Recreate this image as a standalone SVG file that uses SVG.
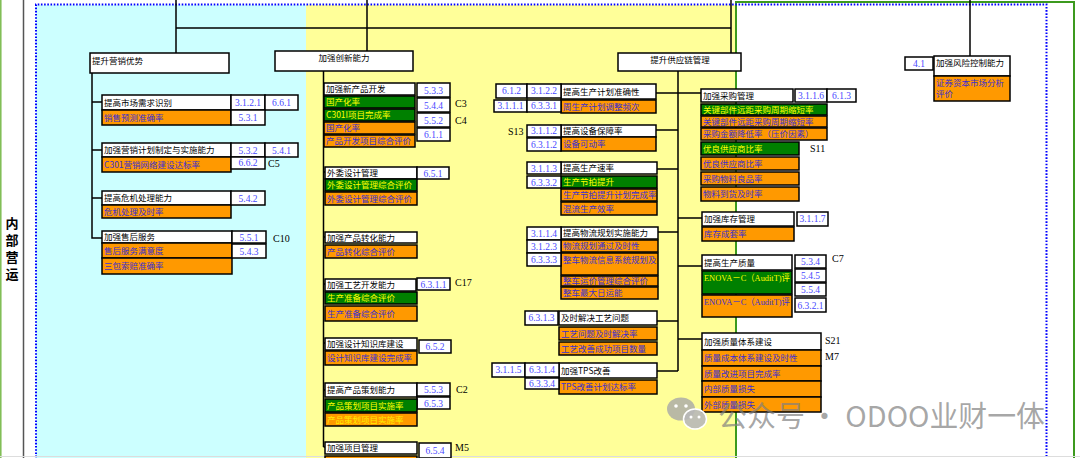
<svg xmlns="http://www.w3.org/2000/svg" width="1080" height="458" viewBox="0 0 1080 458">
<style>
.w{fill:#fff;stroke:#000;stroke-width:1.5}
.o{fill:#ff9900;stroke:#000;stroke-width:1.5}
.g{fill:#008000;stroke:#000;stroke-width:1.5}
.k{fill:#fff;stroke:#000;stroke-width:1.5}
.t{font-family:"Noto Sans CJK SC","Noto Sans",sans-serif;font-size:8.5px;fill:#000}
.tb{font-family:"Noto Sans CJK SC","Noto Sans",sans-serif;font-size:8.5px;fill:#3b2fcf}
.ty{font-family:"Noto Sans CJK SC","Noto Sans",sans-serif;font-size:8.5px;fill:#ffff00}
.te{font-family:"Liberation Serif","Noto Sans CJK SC",serif;font-size:9px}
.n{font-family:"Liberation Serif",serif;font-size:9.5px;fill:#4848ff;text-anchor:middle}
.m{font-family:"Liberation Serif",serif;font-size:10px;fill:#000}
.ln{stroke:#000;stroke-width:1.5;fill:none}
.wm{font-family:"Noto Sans CJK SC","Noto Sans",sans-serif;font-size:29px;fill:#808080;fill-opacity:0.7}
</style>
<rect x="0" y="0" width="1080" height="458" fill="#fff"/>
<rect x="36" y="5" width="270" height="453" fill="#ccffff"/>
<rect x="306" y="5" width="430" height="453" fill="#ffff99"/>
<line x1="0.8" y1="0" x2="0.8" y2="458" stroke="#7cbb4f" stroke-width="1.5"/>
<line x1="23.5" y1="0" x2="23.5" y2="458" stroke="#555" stroke-width="1.5"/>
<path d="M736,458 V2 H1074 V458" fill="none" stroke="#3c9a1e" stroke-width="2"/>
<path d="M36,470 V4.5 H1046.5 V470" fill="none" stroke="#0000ff" stroke-width="2" stroke-dasharray="1.6 1.6"/>
<line x1="0" y1="456.5" x2="1080" y2="456.5" stroke="#ddd" stroke-width="1"/>
<g id="side-label" class="t" style="font-size:13px;font-weight:bold">
<text x="5.5" y="228">内</text><text x="5.5" y="245">部</text><text x="5.5" y="262">营</text><text x="5.5" y="279">运</text>
</g>

<g id="connectors" class="ln">
<path d="M176,0 V53 M367,0 V51 M731,0 V53 M176,28 H731 M970,0 V56"/>
<path d="M92,73 V238 H102 M92,102 H102 M92,150 H102 M92,198 H102"/>
<path d="M323.5,71 V447 M323.5,89 H325 M323.5,172 H325 M323.5,237 H325 M323.5,284 H325 M323.5,343 H325 M323.5,390 H325 M323.5,447 H325"/>
<path d="M678,71 V371 M656,93 H701 M656,130 H678 M657,169 H678 M658,232 H678 M657,321 H678 M657,371 H678 M678,218 H702 M678,266 H702 M678,339 H702"/>
</g>

<g id="n-marketing">
<rect class="w" x="90" y="53" width="139" height="20"/><text class="t" x="92" y="64">提升营销优势</text>
</g>
<g id="n-market-demand">
<rect class="w" x="102" y="95" width="129" height="15"/><text class="t" x="104" y="105.5">提高市场需求识别</text>
<rect class="o" x="102" y="110" width="129" height="15"/><text class="tb" x="104" y="120.5">销售预测准确率</text>
<rect class="k" x="231" y="95" width="34" height="15"/><text class="n" x="248" y="106">3.1.2.1</text>
<rect class="k" x="265" y="95" width="33" height="15"/><text class="n" x="281.5" y="106">6.6.1</text>
<rect class="k" x="231" y="110" width="34" height="15"/><text class="n" x="248" y="121">5.3.1</text>
</g>
<g id="n-sales-plan">
<rect class="w" x="102" y="143" width="129" height="14"/><text class="t" x="104" y="153">加强营销计划制定与实施能力</text>
<rect class="o" x="102" y="157" width="129" height="15"/><text class="tb" x="104" y="167.5">C301营销网络建设达标率</text>
<rect class="k" x="231" y="143" width="34" height="14"/><text class="n" x="248" y="153.5">5.3.2</text>
<rect class="k" x="265" y="143" width="33" height="14"/><text class="n" x="281.5" y="153.5">5.4.1</text>
<rect class="k" x="231" y="157" width="34" height="12"/><text class="n" x="248" y="166">6.6.2</text>
<text class="m" x="268" y="167">C5</text>
</g>
<g id="n-crisis">
<rect class="w" x="102" y="191" width="129" height="14"/><text class="t" x="104" y="201">提高危机处理能力</text>
<rect class="o" x="102" y="205" width="129" height="13"/><text class="tb" x="104" y="214.5">危机处理及时率</text>
<rect class="k" x="231" y="191" width="34" height="14"/><text class="n" x="248" y="201.5">5.4.2</text>
</g>
<g id="n-aftersales">
<rect class="w" x="102" y="231" width="130" height="12"/><text class="t" x="104" y="240">加强售后服务</text>
<rect class="o" x="102" y="243" width="130" height="15"/><text class="tb" x="104" y="253.5">售后服务满意度</text>
<rect class="o" x="102" y="258" width="130" height="16"/><text class="tb" x="104" y="269">三包索赔准确率</text>
<rect class="k" x="232" y="231" width="34" height="12"/><text class="n" x="249" y="240.5">5.5.1</text>
<rect class="k" x="232" y="244" width="34" height="14"/><text class="n" x="249" y="254.5">5.4.3</text>
<text class="m" x="273" y="242">C10</text>
</g>

<g id="n-innovation">
<rect class="w" x="275" y="51" width="138" height="20"/><text class="t" x="344" y="61" text-anchor="middle">加强创新能力</text>
</g>
<g id="n-new-product">
<rect class="w" x="324" y="83" width="91" height="12"/><text class="t" x="326" y="92">加强新产品开发</text>
<rect class="g" x="324" y="96" width="91" height="12"/><text class="ty" x="326" y="105">国产化率</text>
<rect class="g" x="324" y="109" width="91" height="12"/><text class="ty" x="326" y="118">C301I项目完成率</text>
<rect class="o" x="324" y="122" width="91" height="12"/><text class="tb" x="326" y="131">国产化率</text>
<rect class="o" x="324" y="135" width="91" height="12"/><text class="tb" x="326" y="144">产品开发项目综合评价</text>
<rect class="k" x="417" y="83" width="33" height="14"/><text class="n" x="433.5" y="93.5">5.3.3</text>
<rect class="k" x="417" y="98" width="33" height="14"/><text class="n" x="433.5" y="108.5">5.4.4</text>
<rect class="k" x="417" y="113" width="33" height="14"/><text class="n" x="433.5" y="123.5">5.5.2</text>
<rect class="k" x="417" y="128" width="33" height="13"/><text class="n" x="433.5" y="138">6.1.1</text>
<text class="m" x="455" y="107">C3</text><text class="m" x="455" y="124">C4</text>
</g>
<g id="n-outsourcing">
<rect class="w" x="325" y="167" width="92" height="12"/><text class="t" x="327" y="176">外委设计管理</text>
<rect class="g" x="325" y="179" width="92" height="12"/><text class="ty" x="327" y="188">外委设计管理综合评价</text>
<rect class="o" x="325" y="192" width="92" height="13"/><text class="tb" x="327" y="201.5">外委设计管理综合评价</text>
<rect class="k" x="417" y="167" width="32" height="12"/><text class="n" x="433" y="176.5">6.5.1</text>
</g>
<g id="n-conversion">
<rect class="w" x="325" y="232" width="92" height="11"/><text class="t" x="327" y="240.5">加强产品转化能力</text>
<rect class="o" x="325" y="245" width="92" height="13"/><text class="tb" x="327" y="254.5">产品转化综合评价</text>
</g>
<g id="n-process-dev">
<rect class="w" x="325" y="279" width="91" height="12"/><text class="t" x="327" y="288">加强工艺开发能力</text>
<rect class="k" x="417" y="278" width="33" height="12"/><text class="n" x="433.5" y="287.5">6.3.1.1</text>
<text class="m" x="455" y="286">C17</text>
<rect class="g" x="325" y="292" width="92" height="12"/><text class="ty" x="327" y="301">生产准备综合评价</text>
<rect class="o" x="325" y="306" width="92" height="15"/><text class="tb" x="327" y="316.5">生产准备综合评价</text>
</g>
<g id="n-knowledge">
<rect class="w" x="325" y="338" width="92" height="12"/><text class="t" x="327" y="347">加强设计知识库建设</text>
<rect class="o" x="325" y="351" width="92" height="14"/><text class="tb" x="327" y="361">设计知识库建设完成率</text>
<rect class="k" x="419" y="340" width="32" height="13"/><text class="n" x="435" y="350">6.5.2</text>
</g>
<g id="n-planning">
<rect class="w" x="325" y="383" width="92" height="14"/><text class="t" x="327" y="393">提高产品策划能力</text>
<rect class="k" x="417" y="383" width="33" height="13"/><text class="n" x="433.5" y="393">5.5.3</text>
<rect class="k" x="417" y="397" width="33" height="12"/><text class="n" x="433.5" y="406.5">6.5.3</text>
<text class="m" x="456" y="393">C2</text>
<rect class="g" x="325" y="399" width="92" height="13"/><text class="ty" x="327" y="408.5">产品策划项目实施率</text>
<rect class="o" x="325" y="413" width="92" height="13"/><text class="ty" x="327" y="422.5" style="fill:#ffee00">产品策划项目实施率</text>
</g>
<g id="n-project">
<rect class="w" x="325" y="442" width="92" height="12"/><text class="t" x="327" y="451">加强项目管理</text>
<rect class="k" x="419" y="443" width="32" height="15"/><text class="n" x="435" y="454">6.5.4</text>
<text class="m" x="455" y="451">M5</text>
<rect class="o" x="325" y="456" width="92" height="10"/>
</g>

<g id="n-supply">
<rect class="w" x="618" y="53" width="123" height="18"/><text class="t" x="680" y="63" text-anchor="middle">提升供应链管理</text>
</g>
<g id="n-plan-accuracy">
<rect class="w" x="561" y="84" width="95" height="15"/><text class="t" x="563" y="94.5">提高生产计划准确性</text>
<rect class="o" x="561" y="100" width="95" height="13"/><text class="tb" x="563" y="109.5">周生产计划调整频次</text>
<rect class="k" x="496" y="84" width="31" height="14"/><text class="n" x="511.5" y="94">6.1.2</text>
<rect class="k" x="527" y="84" width="34" height="14"/><text class="n" x="544" y="94">3.1.2.2</text>
<rect class="k" x="494" y="100" width="33" height="12"/><text class="n" x="510.5" y="109">3.1.1.1</text>
<rect class="k" x="527" y="100" width="34" height="12"/><text class="n" x="544" y="109">6.3.3.1</text>
</g>
<g id="n-equipment">
<rect class="w" x="561" y="125" width="95" height="12"/><text class="t" x="563" y="134">提高设备保障率</text>
<rect class="o" x="561" y="137" width="95" height="14"/><text class="tb" x="563" y="147">设备可动率</text>
<rect class="k" x="527" y="125" width="34" height="12"/><text class="n" x="544" y="134">3.1.1.2</text>
<rect class="k" x="527" y="138" width="34" height="13"/><text class="n" x="544" y="147.5">6.3.1.2</text>
<text class="m" x="508" y="135">S13</text>
</g>
<g id="n-speed">
<rect class="w" x="561" y="162" width="96" height="12"/><text class="t" x="563" y="171">提高生产速率</text>
<rect class="g" x="561" y="176" width="96" height="12"/><text class="ty" x="563" y="185">生产节拍提升</text>
<rect class="o" x="561" y="189" width="96" height="12"/><text class="tb" x="563" y="198">生产节拍提升计划完成率</text>
<rect class="o" x="561" y="202" width="96" height="13"/><text class="tb" x="563" y="211.5">混流生产效率</text>
<rect class="k" x="527" y="162" width="34" height="12"/><text class="n" x="544" y="171.5">3.1.1.3</text>
<rect class="k" x="527" y="176" width="34" height="12"/><text class="n" x="544" y="185.5">6.3.3.2</text>
</g>
<g id="n-logistics">
<rect class="w" x="561" y="227" width="97" height="12"/><text class="t" x="563" y="236">提高物流规划实施能力</text>
<rect class="o" x="561" y="240" width="97" height="12"/><text class="tb" x="563" y="249">物流规划通过及时性</text>
<rect class="o" x="561" y="253" width="97" height="22"/><text class="tb" x="563" y="263">整车物流信息系统规划及</text>
<rect class="o" x="561" y="276" width="97" height="10"/><text class="tb" x="563" y="284">整车运价管理综合评价</text>
<rect class="o" x="561" y="287" width="97" height="12"/><text class="tb" x="563" y="296">整车最大日运能</text>
<rect class="k" x="527" y="227" width="34" height="13"/><text class="n" x="544" y="236.5">3.1.1.4</text>
<rect class="k" x="527" y="240" width="34" height="13"/><text class="n" x="544" y="249.5">3.1.2.3</text>
<rect class="k" x="527" y="253" width="34" height="13"/><text class="n" x="544" y="262.5">6.3.3.3</text>
</g>
<g id="n-process-issue">
<rect class="w" x="559" y="311" width="98" height="14"/><text class="t" x="561" y="321">及时解决工艺问题</text>
<rect class="o" x="559" y="327" width="98" height="13"/><text class="tb" x="561" y="336.5">工艺问题及时解决率</text>
<rect class="o" x="559" y="342" width="98" height="13"/><text class="tb" x="561" y="351.5">工艺改善成功项目数量</text>
<rect class="k" x="525" y="311" width="33" height="14"/><text class="n" x="541.5" y="321">6.3.1.3</text>
</g>
<g id="n-tps">
<rect class="w" x="559" y="363" width="98" height="15"/><text class="t" x="561" y="373.5">加强TPS改善</text>
<rect class="o" x="559" y="380" width="98" height="14"/><text class="tb" x="561" y="390">TPS改善计划达标率</text>
<rect class="k" x="492" y="363" width="33" height="14"/><text class="n" x="508.5" y="373">3.1.1.5</text>
<rect class="k" x="525" y="363" width="34" height="14"/><text class="n" x="542" y="373">6.3.1.4</text>
<rect class="k" x="525" y="378" width="34" height="11"/><text class="n" x="542" y="386.5">6.3.3.4</text>
</g>
<g id="n-purchase">
<rect class="w" x="701" y="89" width="92" height="13"/><text class="t" x="703" y="98.5">加强采购管理</text>
<rect class="k" x="795" y="89" width="32" height="13"/><text class="n" x="811" y="99">3.1.1.6</text>
<rect class="k" x="827" y="89" width="29" height="13"/><text class="n" x="841.5" y="99">6.1.3</text>
<rect class="g" x="701" y="104" width="126" height="11"/><text class="ty" x="703" y="112.5">关键部件远距采购周期缩短率</text>
<rect class="o" x="701" y="116" width="126" height="11"/><text class="tb" x="703" y="124.5">关键部件远距采购周期缩短率</text>
<rect class="o" x="701" y="128" width="126" height="12"/><text class="tb" x="703" y="137">采购金额降低率（压价因素）</text>
<rect class="g" x="701" y="142" width="98" height="13"/><text class="ty" x="703" y="151.5">优良供应商比率</text>
<rect class="o" x="701" y="157" width="98" height="13"/><text class="tb" x="703" y="166.5">优良供应商比率</text>
<rect class="o" x="701" y="172" width="98" height="13"/><text class="tb" x="703" y="181.5">采购物料良品率</text>
<rect class="o" x="701" y="187" width="98" height="14"/><text class="tb" x="703" y="197">物料到货及时率</text>
<text class="m" x="810" y="152">S11</text>
</g>
<g id="n-inventory">
<rect class="w" x="702" y="212" width="92" height="14"/><text class="t" x="704" y="222">加强库存管理</text>
<rect class="o" x="702" y="227" width="92" height="14"/><text class="tb" x="704" y="237">库存成套率</text>
<rect class="k" x="797" y="212" width="31" height="14"/><text class="n" x="812.5" y="222">3.1.1.7</text>
</g>
<g id="n-quality">
<rect class="w" x="702" y="255" width="90" height="15"/><text class="t" x="704" y="265.5">提高生产质量</text>
<rect class="g" x="702" y="271" width="90" height="23"/><text class="te" x="704" y="281" fill="#ffff00" textLength="86" lengthAdjust="spacingAndGlyphs">ENOVA－C（AuditT)评</text>
<rect class="o" x="702" y="295" width="90" height="22"/><text class="te" x="704" y="305" fill="#3b2fcf" textLength="86" lengthAdjust="spacingAndGlyphs">ENOVA－C（AuditT)评</text>
<rect class="k" x="795" y="255" width="31" height="13"/><text class="n" x="810.5" y="265">5.3.4</text>
<rect class="k" x="795" y="269" width="31" height="13"/><text class="n" x="810.5" y="279">5.4.5</text>
<rect class="k" x="795" y="283" width="31" height="13"/><text class="n" x="810.5" y="293">5.5.4</text>
<rect class="k" x="795" y="298" width="31" height="14"/><text class="n" x="810.5" y="308.5">6.3.2.1</text>
<text class="m" x="832" y="262">C7</text>
</g>
<g id="n-quality-system">
<rect class="w" x="702" y="333" width="119" height="17"/><text class="t" x="704" y="344.5">加强质量体系建设</text>
<rect class="o" x="702" y="350" width="119" height="16"/><text class="tb" x="704" y="361">质量成本体系建设及时性</text>
<rect class="o" x="702" y="366" width="119" height="15"/><text class="tb" x="704" y="376.5">质量改进项目完成率</text>
<rect class="o" x="702" y="381" width="119" height="16"/><text class="tb" x="704" y="392">内部质量损失</text>
<rect class="o" x="702" y="397" width="119" height="15"/><text class="tb" x="704" y="407.5">外部质量损失</text>
<text class="m" x="825" y="344">S21</text><text class="m" x="825" y="360">M7</text>
</g>

<g id="n-risk">
<rect class="k" x="905" y="57" width="28" height="13"/><text class="n" x="919" y="67">4.1</text>
<rect class="w" x="934" y="56" width="76" height="20"/><text class="t" x="936" y="66">加强风险控制能力</text>
<rect class="o" x="934" y="76" width="76" height="25"/><text class="tb" x="936" y="86">证券资本市场分析</text><text class="tb" x="936" y="97">评价</text>
</g>

<g id="watermark">
<ellipse cx="681" cy="409" rx="14" ry="11.5" fill="#a8a8a8" fill-opacity="0.8"/>
<ellipse cx="695" cy="419" rx="11.5" ry="10" fill="#b8b8b8" fill-opacity="0.9" stroke="#fff" stroke-width="1.5"/>
<circle cx="676" cy="406" r="1.8" fill="#fff"/><circle cx="686" cy="406" r="1.8" fill="#fff"/>
<circle cx="691" cy="417" r="1.5" fill="#fff"/><circle cx="699" cy="417" r="1.5" fill="#fff"/>
<text class="wm" x="718" y="427">公众号</text>
<text class="wm" x="810" y="427" textLength="235" lengthAdjust="spacingAndGlyphs">· ODOO业财一体</text>
</g>
</svg>
